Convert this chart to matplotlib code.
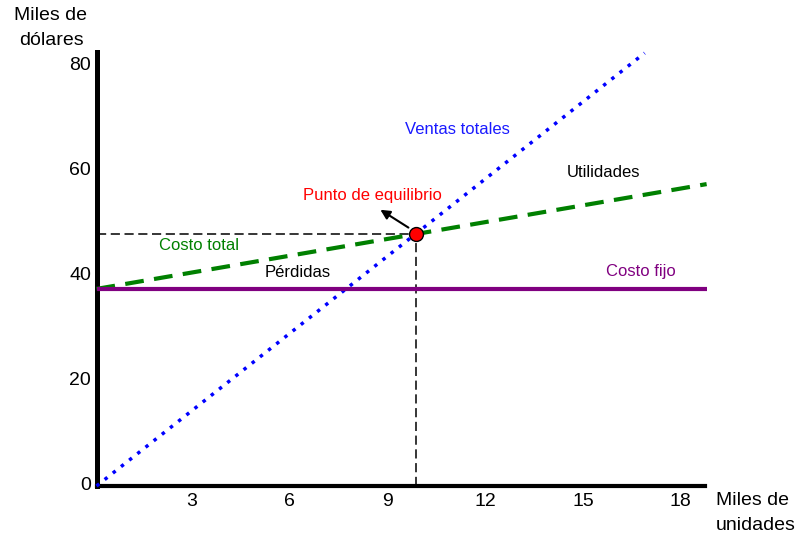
import matplotlib
matplotlib.use("Agg")
import matplotlib.pyplot as plt
import matplotlib.transforms as mtransforms

plt.rcParams['font.family'] = ['Liberation Sans', 'DejaVu Sans']

# Data (miles de unidades, miles de dólares)
units_sales = [0, 16.8]
total_sales = [0, 82.6]
units_cost = [0, 18.7]
total_cost = [37.6, 57.6]
fixed_cost = [37.6, 37.6]
break_even = (9.8, 48.0)

x_ticks = [3, 6, 9, 12, 15, 18]
y_ticks = [0, 20, 40, 60, 80]

fig = plt.figure(figsize=(8, 5.36), dpi=100)
ax = fig.add_axes([96.5 / 800, 50 / 536, 608.5 / 800, 434 / 536])

# Lines
ax.plot(units_sales, total_sales, color='#0000ff', lw=2.5,
        linestyle=(0, (1, 2)), clip_on=False, zorder=3)
ax.plot(units_cost, total_cost, color='#008000', lw=3,
        linestyle=(0, (4.5, 2.5)), clip_on=False, zorder=3)
ax.plot(units_cost, fixed_cost, color='#800080', lw=3,
        solid_capstyle='butt', clip_on=False, zorder=3)

# Break-even guides
ax.plot([0, break_even[0]], [break_even[1], break_even[1]], color='black',
        lw=1.1, linestyle=(0, (6, 3)), zorder=2)
ax.plot([break_even[0], break_even[0]], [0, break_even[1]], color='black',
        lw=1.1, linestyle=(0, (6, 3)), zorder=2)
ax.plot(*break_even, marker='o', markersize=10, markerfacecolor='red',
        markeredgecolor='black', markeredgewidth=1, zorder=5)

ax.annotate('', xy=(8.7, 52.7), xytext=(9.56, 49.3),
            arrowprops=dict(arrowstyle='-|>', color='black', lw=1.5,
                            mutation_scale=14, shrinkA=0, shrinkB=0),
            zorder=4)

# Labels on the chart
ax.text(11.05, 68.0, 'Ventas totales', color='#1a1aff', fontsize=12,
        ha='center', va='center')
ax.text(15.55, 59.9, 'Utilidades', color='black', fontsize=12,
        ha='center', va='center')
ax.text(8.45, 55.5, 'Punto de equilibrio', color='#ff0000', fontsize=12,
        ha='center', va='center')
ax.text(3.15, 45.8, 'Costo total', color='#008000', fontsize=12,
        ha='center', va='center')
ax.text(6.18, 40.8, 'Pérdidas', color='black', fontsize=12,
        ha='center', va='center')
ax.text(16.68, 41.0, 'Costo fijo', color='#800080', fontsize=12,
        ha='center', va='center')

# Axes styling
ax.set_xlim(0, 18.65)
ax.set_ylim(0, 82.8)
ax.spines['top'].set_visible(False)
ax.spines['right'].set_visible(False)
ax.spines['left'].set_linewidth(3.6)
ax.spines['bottom'].set_linewidth(3)
ax.set_xticks(x_ticks)
ax.set_yticks(y_ticks)
ax.tick_params(axis='both', length=0, labelsize=14)
ax.tick_params(axis='x', pad=5)
ax.tick_params(axis='y', pad=4)

# nudge tick labels a little like the original sketch
dx = mtransforms.ScaledTranslation(-3 / 100, 0, fig.dpi_scale_trans)
dy = mtransforms.ScaledTranslation(0, 3 / 100, fig.dpi_scale_trans)
for lab in ax.get_xticklabels():
    lab.set_transform(lab.get_transform() + dx)
for lab in ax.get_yticklabels():
    lab.set_transform(lab.get_transform() + dy)

fig.text(51 / 800, 1 - 28 / 536, 'Miles de\ndólares', fontsize=14,
         ha='center', va='center', multialignment='center', linespacing=1.64)
fig.text(716 / 800, 1 - 513 / 536, 'Miles de\nunidades', fontsize=14,
         ha='left', va='center', multialignment='left', linespacing=1.55)

fig.savefig('out.png', dpi=100)
